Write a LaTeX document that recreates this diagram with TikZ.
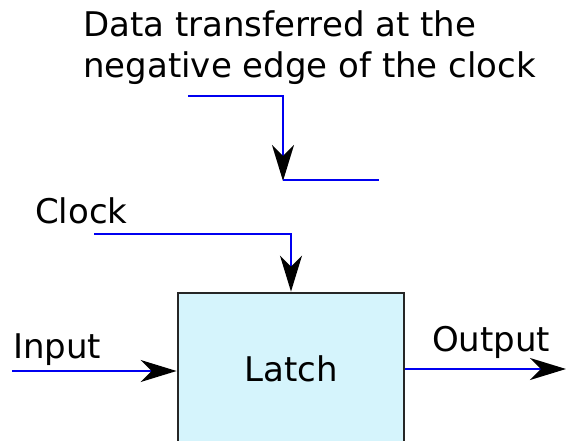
\documentclass[tikz,border=0pt]{standalone}
\usepackage{fontspec}
\setmainfont{DejaVu Sans}
\usetikzlibrary{arrows.meta,positioning}
\definecolor{wire}{RGB}{0,0,240}
\definecolor{latchfill}{RGB}{213,244,252}
\tikzset{
	sig/.style={draw=wire,line width=2pt},
	arr/.style={sig,-{Stealth[length=36pt,width=22pt,inset=11pt,black]}},
	lbl/.style={inner sep=0pt,anchor=base west,font=\fontsize{34}{41}\selectfont},
	latchbox/.style={draw=black!85,line width=2.8pt,fill=latchfill,minimum width=226pt,minimum height=152pt,font=\fontsize{34}{41}\selectfont}
}
\begin{document}
\begin{tikzpicture}[x=1pt,y=-1pt]
			\useasboundingbox (0,0) rectangle (566,440);
			\node[latchbox] (latch) at (291,369) {Latch};
			\node[lbl] (note1) at (83,36) {Data transferred at the};
			\node[lbl] (note2) at (83,77) {negative edge of the clock};
			\node[lbl] (clk) at (35,223) {Clock};
			\node[lbl] (in) at (13,358) {Input};
			\node[lbl] (out) at (432,351) {Output};
			
			% clock edge
			\coordinate (e1) at (188,96);
			\coordinate (e2) at (283,181);
			\coordinate (e3) at (379,180);
			\draw[arr] (e1) -| (e2);
			\draw[sig] (e2 |- e3) -- (e3);
			
			% signals
			\coordinate (c1) at (94,234);
			\coordinate (i1) at (12,371);
			\coordinate (o1) at (566,369);
			\draw[arr] (c1) -| (latch.north);
			\draw[arr] (i1) -- (latch.west |- i1);
			\draw[arr] (latch.east |- o1) -- (o1);
\end{tikzpicture}
\end{document}
